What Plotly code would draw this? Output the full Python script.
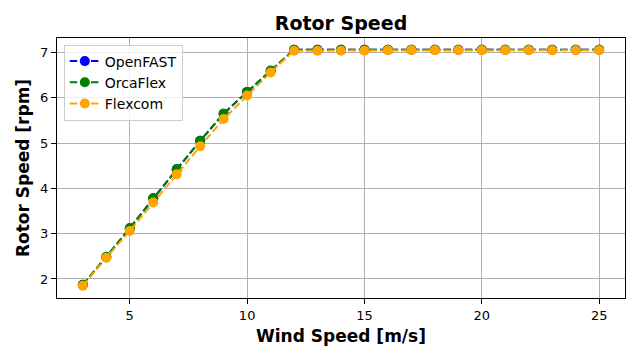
import plotly.graph_objects as go

wind = [3, 4, 5, 6, 7, 8, 9, 10, 11, 12, 13, 14, 15, 16, 17, 18, 19, 20, 21, 22, 23, 24, 25]
openfast = [1.87, 2.48, 3.12, 3.78, 4.42, 5.05, 5.65, 6.13, 6.59, 7.06, 7.06, 7.06, 7.06, 7.06, 7.06, 7.06, 7.06, 7.06, 7.06, 7.06, 7.06, 7.06, 7.06]
orcaflex = [1.87, 2.49, 3.12, 3.78, 4.42, 5.05, 5.65, 6.13, 6.60, 7.06, 7.06, 7.06, 7.06, 7.06, 7.06, 7.06, 7.06, 7.06, 7.06, 7.06, 7.06, 7.06, 7.06]
flexcom = [1.85, 2.47, 3.06, 3.69, 4.31, 4.93, 5.53, 6.05, 6.56, 7.04, 7.04, 7.04, 7.04, 7.05, 7.05, 7.05, 7.05, 7.05, 7.05, 7.05, 7.05, 7.05, 7.05]

series = [("OpenFAST", openfast, "blue"), ("OrcaFlex", orcaflex, "green"), ("Flexcom", flexcom, "orange")]

fig = go.Figure()
for name, vals, col in series:
    fig.add_trace(go.Scatter(
        x=wind, y=vals, name=name, mode="lines+markers",
        line=dict(color=col, width=2, dash="7.4px,3.2px"),
        marker=dict(color=col, size=10),
    ))

# The page body has an 8px margin, so the figure is sized and offset to compensate.
W, H = 624, 344
font = "DejaVu Sans"
fig.update_layout(
    width=W, height=H,
    paper_bgcolor="white", plot_bgcolor="white",
    margin=dict(l=49, r=7, t=30, b=54),
    font=dict(family=font, size=13, color="black"),
    title=dict(text="<b>Rotor Speed</b>", x=0.5, xref="paper", xanchor="center",
               y=1 - 15 / H, yanchor="middle", font=dict(size=19, family=font)),
    showlegend=True,
    legend=dict(x=0.012, y=0.975, xanchor="left", yanchor="top",
                bgcolor="rgba(255,255,255,0.8)", bordercolor="#cccccc", borderwidth=1,
                font=dict(size=14, family=font), itemwidth=30, tracegroupgap=0),
)
fig.update_xaxes(
    range=[1.9, 26.1], tickvals=[5, 10, 15, 20, 25], automargin=False,
    showgrid=True, gridcolor="#b0b0b0", gridwidth=1,
    showline=True, linecolor="black", linewidth=1, mirror=True,
    ticks="outside", ticklen=5, tickcolor="black", zeroline=False,
    tickfont=dict(size=13, family=font),
    title=dict(text="<b>Wind Speed [m/s]</b>", font=dict(size=17, family=font), standoff=8),
)
fig.update_yaxes(
    range=[1.58, 7.32], tickvals=[2, 3, 4, 5, 6, 7], automargin=False,
    showgrid=True, gridcolor="#b0b0b0", gridwidth=1,
    showline=True, linecolor="black", linewidth=1, mirror=True,
    ticks="outside", ticklen=5, tickcolor="black", zeroline=False,
    tickfont=dict(size=13, family=font),
    title=dict(text="<b>Rotor Speed [rpm]</b>", font=dict(size=17, family=font), standoff=6),
)

fig.write_html("out.html")
